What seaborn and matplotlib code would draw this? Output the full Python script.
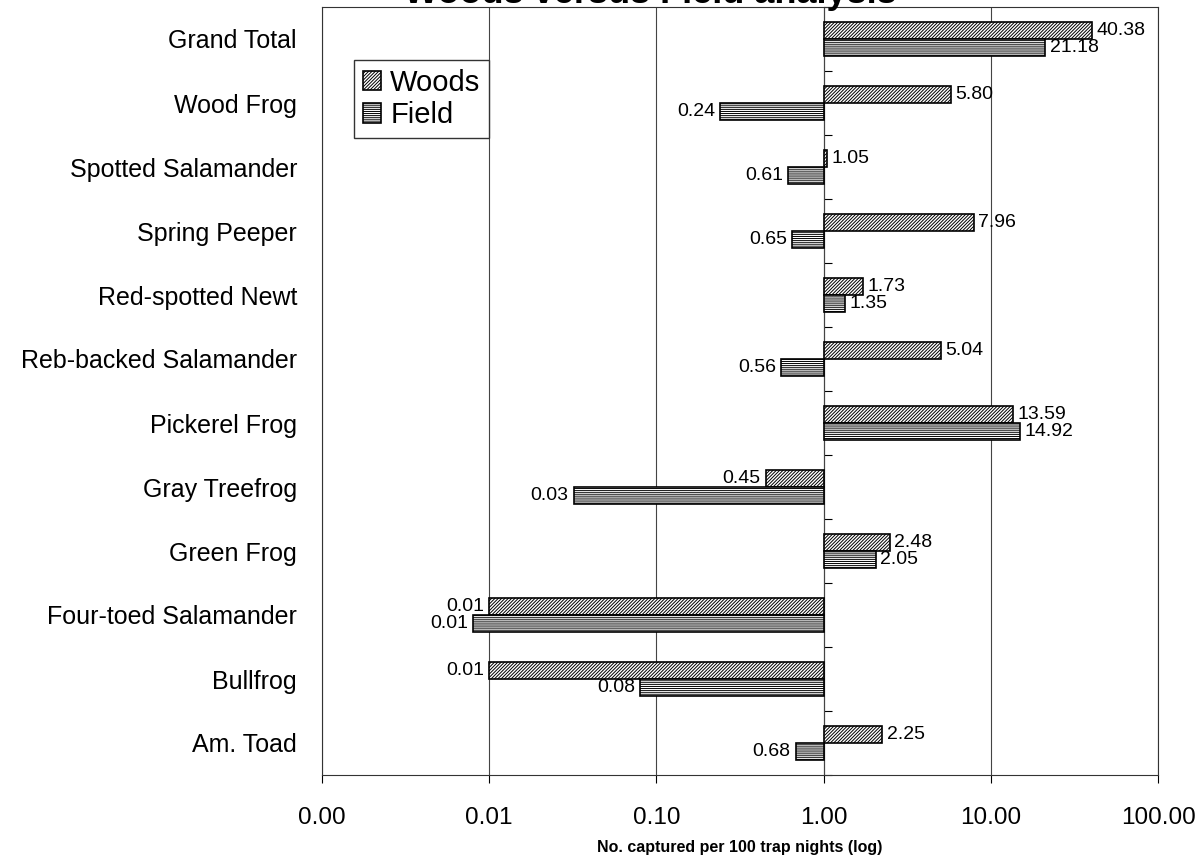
import matplotlib
matplotlib.use("Agg")
import matplotlib.pyplot as plt
from matplotlib.ticker import FormatStrFormatter, NullLocator
import numpy as np
import pandas as pd
import seaborn as sns

# Capture rates per 100 trap nights, top to bottom as shown
SPECIES = ["Grand Total", "Wood Frog", "Spotted Salamander", "Spring Peeper",
           "Red-spotted Newt", "Reb-backed Salamander", "Pickerel Frog",
           "Gray Treefrog", "Green Frog", "Four-toed Salamander", "Bullfrog",
           "Am. Toad"]
WOODS = [40.38, 5.80, 1.05, 7.96, 1.73, 5.04, 13.59, 0.45, 2.48, 0.010, 0.010, 2.25]
FIELD = [21.18, 0.24, 0.61, 0.65, 1.35, 0.56, 14.92, 0.032, 2.05, 0.008, 0.08, 0.68]
HABITATS = ["Woods", "Field"]
HATCHES = {"Woods": "//////////", "Field": "--------"}
X_TICKS = [0.001, 0.01, 0.1, 1, 10, 100]
BASE = 1.0  # bars grow out of the 1.00 line

sns.set_style("white")
plt.rcParams["font.family"] = ["Liberation Sans", "DejaVu Sans"]
plt.rcParams["hatch.linewidth"] = 0.7
plt.rcParams["text.color"] = "black"
plt.rcParams["xtick.color"] = "black"
plt.rcParams["ytick.color"] = "black"
plt.rcParams["axes.labelcolor"] = "black"

df = pd.DataFrame({
    "species": SPECIES * 2,
    "rate": WOODS + FIELD,
    "habitat": ["Woods"] * len(SPECIES) + ["Field"] * len(SPECIES),
})

fig = plt.figure(figsize=(11.98, 8.61), dpi=100)
ax = fig.add_axes([322 / 1198, 1 - 775 / 861, 836 / 1198, 768 / 861])

sns.barplot(data=df, y="species", x="rate", hue="habitat", orient="h",
            hue_order=HABITATS, palette={"Woods": "white", "Field": "white"},
            width=0.54, edgecolor="black", linewidth=1.2, legend=False, ax=ax)

ax.set_xscale("log")
ax.set_xlim(X_TICKS[0], X_TICKS[-1])

# re-anchor bars at 1.00 and label their ends
for cont, hab, vals in zip(ax.containers, HABITATS, [WOODS, FIELD]):
    for p, v in zip(cont.patches, vals):
        p.set_x(BASE)
        p.set_width(v - BASE)
        p.set_hatch(HATCHES[hab])
        y = p.get_y() + p.get_height() / 2
        if v >= BASE:
            ax.text(v * 1.06, y, f"{v:.2f}", ha="left", va="center", fontsize=14)
        else:
            ax.text(v / 1.07, y, f"{v:.2f}", ha="right", va="center", fontsize=14)

# axes cosmetics
ax.set_xticks(X_TICKS)
ax.xaxis.set_major_formatter(FormatStrFormatter("%.2f"))
ax.xaxis.set_minor_locator(NullLocator())
ax.tick_params(axis="x", direction="out", length=6, width=0.8, pad=17,
               labelsize=17.5, bottom=True)
ax.tick_params(axis="y", length=0, pad=18, labelsize=18)
ax.set_ylabel("")
ax.set_xlabel("No. captured per 100 trap nights (log)", fontsize=11.5,
              fontweight="bold", labelpad=8)
ax.grid(axis="x", which="major", color="#444444", linewidth=0.8)
ax.set_axisbelow(True)
for s in ax.spines.values():
    s.set_color("#333333")
    s.set_linewidth(0.8)

# category axis crossing at 1.00 with boundary ticks
cross = (np.log10(BASE) - np.log10(X_TICKS[0])) / (np.log10(X_TICKS[-1]) - np.log10(X_TICKS[0]))
sec = ax.secondary_yaxis(cross)
sec.set_yticks(np.arange(len(SPECIES) + 1) - 0.5)
sec.set_yticklabels([])
sec.tick_params(axis="y", direction="out", length=6, width=0.8)
sec.spines["left"].set_color("black")
sec.spines["left"].set_linewidth(1.0)

ax.legend(handles=[ax.containers[0], ax.containers[1]], labels=HABITATS,
          loc="upper left", bbox_to_anchor=(0.038, 0.931), fontsize=21,
          frameon=True, fancybox=False, edgecolor="#333333", framealpha=1,
          borderaxespad=0, handlelength=0.65, handleheight=0.65,
          handletextpad=0.3, labelspacing=0.15, borderpad=0.3)

fig.text(0.5426, 1 - 3 / 861, "Woods versus Field analysis", ha="center",
         va="baseline", fontsize=26, fontweight="bold")

fig.savefig("out.png", dpi=100)
